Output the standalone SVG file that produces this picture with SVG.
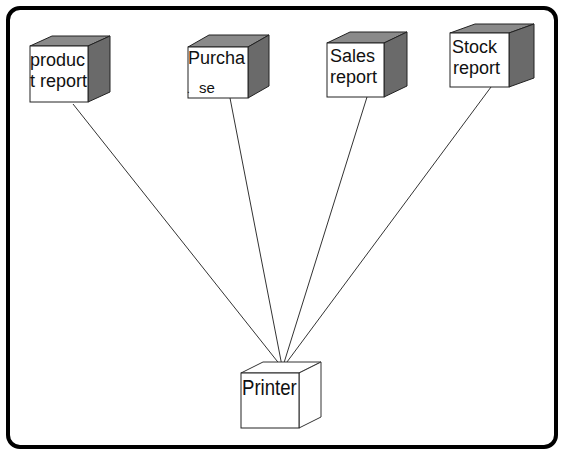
<svg xmlns="http://www.w3.org/2000/svg" width="564" height="455" viewBox="0 0 564 455">
<style>
.front{fill:#fff;stroke:#222;stroke-width:1}
.top{fill:#8a8a8a;stroke:#222;stroke-width:1}
.side{fill:#6a6a6a;stroke:#222;stroke-width:1}
.wtop{fill:#fff;stroke:#333;stroke-width:1}
.lbl{font-family:"Liberation Sans",Arial,sans-serif;font-size:18px;fill:#111}
.conn{stroke:#333;stroke-width:1;fill:none}
</style>
<rect x="0" y="0" width="564" height="455" fill="#fff"/>
<rect x="8" y="8" width="548" height="439" rx="12" fill="#fff" stroke="#000" stroke-width="4"/>
<g id="connectors">
<line class="conn" x1="73" y1="104" x2="281" y2="366"/>
<line class="conn" x1="230" y1="98" x2="282" y2="366"/>
<line class="conn" x1="367" y1="97" x2="283" y2="366"/>
<line class="conn" x1="491" y1="87" x2="284" y2="366"/>
</g>
<g id="product-report">
<polygon class="top" points="30,46 52,36 110,36 88,46"/>
<polygon class="side" points="88,46 110,36 110,92 88,102"/>
<rect class="front" x="30" y="46" width="58" height="56"/>
<text class="lbl" x="30" y="66">produc</text>
<text class="lbl" x="30" y="87">t report</text>
</g>
<g id="purchase">
<polygon class="top" points="188,47 209,35 269,35 248,47"/>
<polygon class="side" points="248,47 269,35 269,86 248,98"/>
<rect class="front" x="188" y="47" width="60" height="51"/>
<text class="lbl" x="188" y="64">Purcha</text>
<text class="lbl" x="187" y="93" style="font-size:10px">.</text>
<text class="lbl" x="199" y="93" style="font-size:15px">se</text>
</g>
<g id="sales-report">
<polygon class="top" points="327,43 350,32 407,32 384,43"/>
<polygon class="side" points="384,43 407,32 407,86 384,97"/>
<rect class="front" x="327" y="43" width="57" height="54"/>
<text class="lbl" x="330" y="62">Sales</text>
<text class="lbl" x="330" y="83">report</text>
</g>
<g id="stock-report">
<polygon class="top" points="450,33 475,24 534,24 509,33"/>
<polygon class="side" points="509,33 534,24 534,78 509,87"/>
<rect class="front" x="450" y="33" width="59" height="54"/>
<text class="lbl" x="452" y="53">Stock</text>
<text class="lbl" x="453" y="74">report</text>
</g>
<g id="printer">
<polygon class="wtop" points="241,373 263,362 321,362 299,373"/>
<polygon class="wtop" points="299,373 321,362 321,417 299,428"/>
<rect class="front" x="241" y="373" width="58" height="55"/>
<text class="lbl" transform="translate(242,395) scale(0.93,1.12)" style="font-size:20px">Printer</text>
</g>
</svg>
